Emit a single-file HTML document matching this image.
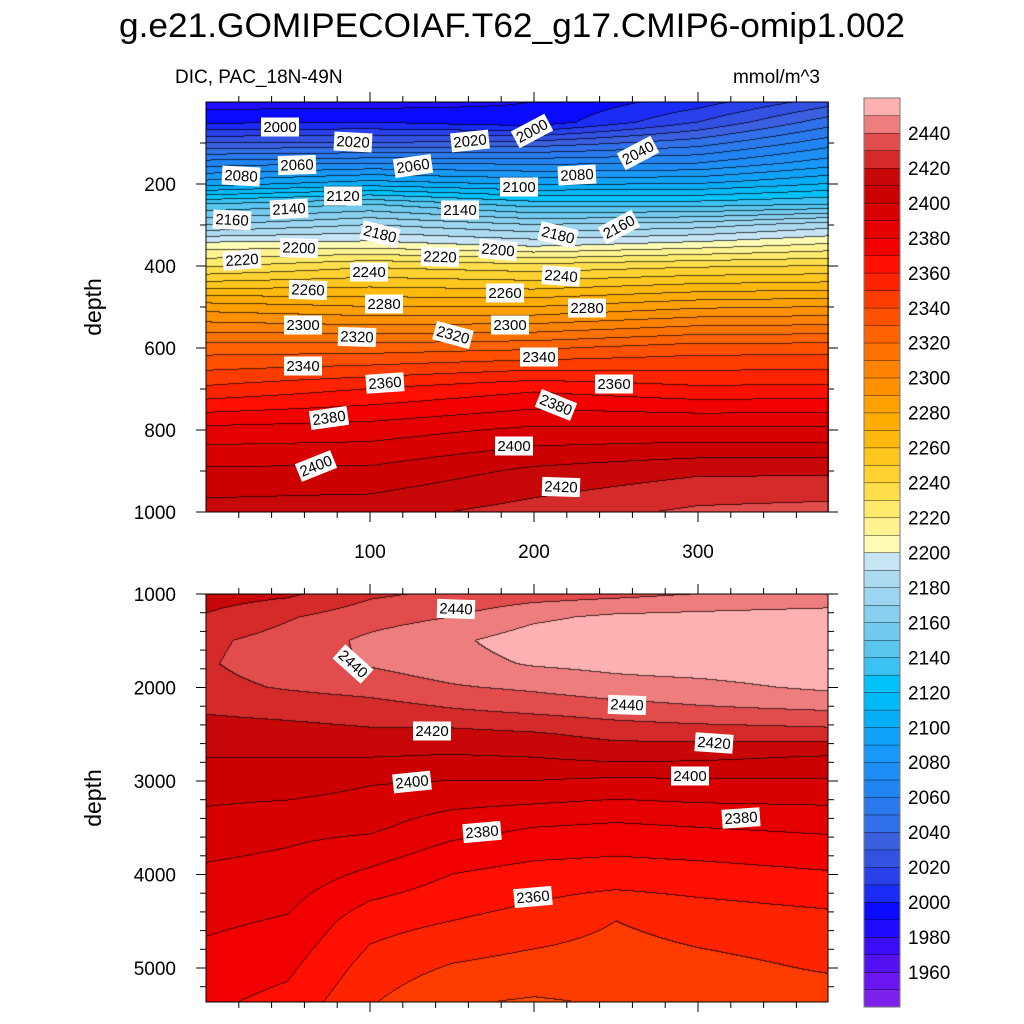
<!DOCTYPE html>
<html><head><meta charset="utf-8">
<style>
html,body{margin:0;padding:0;background:#fff;}
#wrap{position:relative;width:1024px;height:1024px;overflow:hidden;font-family:"Liberation Sans",sans-serif;}
canvas{position:absolute;}
svg{position:absolute;left:0;top:0;}
</style></head>
<body>
<div id="wrap">
<canvas id="ctop" width="623" height="410" style="left:206px;top:102px"></canvas>
<canvas id="cbot" width="622" height="408" style="left:206px;top:594px"></canvas>
<svg id="svg" width="1024" height="1024"></svg>
</div>
<script>
// ---- data ----
const topTimes = [0, 100, 200, 300, 379];
const topDepths = [0, 50, 100, 150, 200, 250, 300, 350, 400, 500, 600, 700, 800, 900, 1000];
const topValsT0   = [1985,1998,2030,2065,2095,2140,2170,2205,2228,2285,2325,2352,2383,2402,2414];
const topValsT100 = [1985,2000,2030,2070,2105,2150,2180,2205,2238,2280,2325,2360,2385,2402,2416];
const topValsT200 = [1990,1993,2033,2068,2098,2135,2170,2198,2233,2280,2328,2368,2392,2412,2424];
const topValsT300 = [2005,2020,2045,2070,2100,2135,2175,2205,2238,2288,2335,2362,2392,2418,2432];
const topValsT379 = [2025,2045,2065,2085,2110,2140,2185,2212,2240,2290,2335,2363,2392,2418,2434];

const botTimes = [0, 50, 100, 150, 200, 250, 300, 379];
const botDepths = [1000,1250,1500,1750,2000,2250,2500,2750,3000,3500,4000,4500,5000,5365];
const botValsT0   = [2415,2421,2428,2429,2427,2421,2415,2410,2405,2396,2388,2382,2376,2372];
const botValsT50  = [2418,2429,2434,2435,2431,2423,2416,2410,2405,2393,2386,2379,2372,2367];
const botValsT100 = [2428,2436,2442,2441,2434,2425,2418,2410,2401,2392,2378,2364,2356,2351];
const botValsT150 = [2432,2440,2448,2446,2439,2429,2417,2409,2400,2384,2370,2360,2349,2341];
const botValsT200 = [2435,2448,2455,2451,2442,2432,2419,2410,2400,2380,2366,2356,2346,2339];
const botValsT250 = [2437,2452,2457,2453,2446,2435,2423,2413,2398,2378,2365,2350,2345,2341];
const botValsT300 = [2440,2453,2457,2455,2447,2438,2424,2412,2399,2380,2366,2354,2347,2343];
const botValsT379 = [2442,2455,2458,2457,2452,2440,2426,2409,2399,2382,2369,2357,2351,2345];

const levelMin = 1950, levelStep = 10;
const colorbarLabels = [1960,1980,2000,2020,2040,2060,2080,2100,2120,2140,2160,2180,2200,2220,2240,2260,2280,2300,2320,2340,2360,2380,2400,2420,2440];
const palette = ["#7d22ea","#6a16f0","#5412f4","#3c0ef8","#200cff","#0a0aff","#1a2cf6","#2a40ea","#3452e2","#3a60e0","#3070e8","#2a7aee","#2084f2","#1c8ef6","#1898f8","#10a2f8","#06aef8","#00baf8","#00c2fa","#3cc2f2","#58c6ee","#72caee","#88ceee","#9cd6f0","#acdaf0","#c6e4f4",
"#fffab4","#fff290","#ffea6c","#ffde4c","#ffd232","#ffc61e","#ffb90e","#ffac00","#ff9f00","#ff9000","#ff8200","#ff7200","#ff6200","#ff5000","#ff3c00","#ff2400","#ff1000","#f20000","#e40000","#d80000","#cc0000","#c80808","#d42a2a","#e24c4c","#ee7e7e","#ffb0b0"];

const topLabels = [[280,127,"2000",0],[353,142,"2020",3],[470,141,"2020",-6],[532,131,"2000",-28],[638,153,"2040",-28],[241,176,"2080",3],[297,165,"2060",-2],[413,166,"2060",-8],[519,187,"2100",0],[577,175,"2080",-3],[343,196,"2120",0],[289,209,"2140",-3],[460,210,"2140",0],[232,220,"2160",3],[619,227,"2160",-28],[380,234,"2180",14],[558,235,"2180",14],[299,248,"2200",2],[498,250,"2200",5],[242,260,"2220",-4],[440,257,"2220",2],[369,272,"2240",0],[561,276,"2240",4],[308,290,"2260",2],[505,293,"2260",0],[384,304,"2280",0],[587,308,"2280",0],[303,325,"2300",0],[510,325,"2300",0],[357,337,"2320",2],[453,335,"2320",15],[303,366,"2340",0],[539,357,"2340",0],[385,383,"2360",-4],[614,384,"2360",0],[329,418,"2380",-8],[556,405,"2380",22],[514,446,"2400",0],[316,466,"2400",-22],[561,487,"2420",2]];
const botLabels = [[456,609,"2440",2],[353,664,"2440",42],[432,731,"2420",0],[627,705,"2440",2],[714,743,"2420",4],[412,782,"2400",-6],[690,776,"2400",0],[482,832,"2380",-5],[741,818,"2380",-4],[533,897,"2360",-5]];

// ---- helpers ----
function interp1(xs, ys, x){
  if (x<=xs[0]) return ys[0];
  for (let i=1;i<xs.length;i++){ if (x<=xs[i]){const f=(x-xs[i-1])/(xs[i]-xs[i-1]); return ys[i-1]+f*(ys[i]-ys[i-1]);} }
  return ys[ys.length-1];
}
function field(times, depths, cols, t, d){
  const colVals = cols.map(c=>interp1(depths,c,d));
  return interp1(times,colVals,t);
}
function binOf(v){ let b=Math.floor((v-levelMin)/levelStep)+1; return Math.max(0,Math.min(palette.length-1,b)); }
function hexRGB(h){return [parseInt(h.substr(1,2),16),parseInt(h.substr(3,2),16),parseInt(h.substr(5,2),16)];}
const palRGB = palette.map(hexRGB);

function drawPanel(id, times, depths, cols, xScaleInv, yScaleInv){
  const c=document.getElementById(id), ctx=c.getContext('2d');
  const W=c.width,H=c.height, img=ctx.createImageData(W,H);
  const bins=new Int16Array(W*H);
  for(let j=0;j<H;j++){ const d=yScaleInv(j+0.5);
    for(let i=0;i<W;i++){ bins[j*W+i]=binOf(field(times,depths,cols,xScaleInv(i+0.5),d)); } }
  for(let j=0;j<H;j++) for(let i=0;i<W;i++){
    const b=bins[j*W+i]; let col=palRGB[b];
    const edge=(i+1<W && bins[j*W+i+1]!==b)||(j+1<H && bins[(j+1)*W+i]!==b);
    const k=(j*W+i)*4;
    if(edge){img.data[k]=col[0]*0.3;img.data[k+1]=col[1]*0.3;img.data[k+2]=col[2]*0.3;}
    else{img.data[k]=col[0];img.data[k+1]=col[1];img.data[k+2]=col[2];}
    img.data[k+3]=255;
  }
  ctx.putImageData(img,0,0);
}
// axis functions
const xPix = t => 206 + t*1.64;
const yTop = d => 102 + d*0.41;
const yBot = d => 594 + (d-1000)*0.0935;

drawPanel('ctop', topTimes, topDepths, [topValsT0,topValsT100,topValsT200,topValsT300,topValsT379], i=>i/1.64, j=>j/0.41);
drawPanel('cbot', botTimes, botDepths, [botValsT0,botValsT50,botValsT100,botValsT150,botValsT200,botValsT250,botValsT300,botValsT379], i=>i/1.64, j=>1000+j/0.0935);

// ---- SVG overlay ----
const NS="http://www.w3.org/2000/svg", svg=document.getElementById('svg');
function el(tag, attrs, parent){ const e=document.createElementNS(NS,tag); for(const k in attrs) e.setAttribute(k,attrs[k]); (parent||svg).appendChild(e); return e; }
function txt(x,y,s,size,anchor,name){ const t=el('text',{x:x,y:y,'font-size':size,'text-anchor':anchor||'start','font-family':'Liberation Sans, sans-serif',fill:'#000'}); t.textContent=s;
  
  
  return t; }

const title = txt(512,37,"g.e21.GOMIPECOIAF.T62_g17.CMIP6-omip1.002",34,'middle','chart-title');
title.setAttribute('textLength','786');
title.setAttribute('lengthAdjust','spacingAndGlyphs');
txt(175,83,"DIC, PAC_18N-49N",19,'start','subtitle-left');
txt(820,83,"mmol/m^3",19,'end','units-label');

// contour labels
function drawLabels(list, prefix){
  list.forEach(function(L){
    const g=el('g',{transform:'translate('+L[0]+','+L[1]+') rotate('+L[3]+')'});
    
    
    el('rect',{x:-19,y:-9.5,width:38,height:19,fill:'#fff'},g);
    const t=el('text',{x:0,y:5,'font-size':15,'text-anchor':'middle','font-family':'Liberation Sans, sans-serif'},g);
    t.textContent=L[2];
  });
}
drawLabels(topLabels,'top');
drawLabels(botLabels,'bottom');

// frames
const f1=el('rect',{x:206,y:102,width:622,height:410,fill:'none',stroke:'#000','stroke-width':1});


const f2=el('rect',{x:206,y:594,width:622,height:408,fill:'none',stroke:'#000','stroke-width':1});



// x ticks
const xMajor=[100,200,300];
const xMinorVals=[20,40,60,80,120,140,160,180,220,240,260,280,320,340,360];
function xTicks(yb, yt, name){
  const g=el('g',{stroke:'#000','stroke-width':1});
  
  
  xMajor.forEach(v=>{ el('line',{x1:xPix(v),x2:xPix(v),y1:yb,y2:yb+10},g); el('line',{x1:xPix(v),x2:xPix(v),y1:yt,y2:yt-10},g); });
  xMinorVals.forEach(v=>{ el('line',{x1:xPix(v),x2:xPix(v),y1:yb,y2:yb+6},g); el('line',{x1:xPix(v),x2:xPix(v),y1:yt,y2:yt-6},g); });
}
xTicks(512,102,'top-x-ticks');
xTicks(1002,594,'bottom-x-ticks');
xMajor.forEach(v=>txt(xPix(v),558,String(v),19,'middle','x-tick-label-'+v));

// y ticks
const topYMajor=[200,400,600,800,1000];
const topYMinor=[100,300,500,700,900];
const botYMajor=[1000,2000,3000,4000,5000];
const botYMinor=[1200,1400,1600,1800,2200,2400,2600,2800,3200,3400,3600,3800,4200,4400,4600,4800,5200];
function yTicks(major, minor, sc, name, prefix){
  const g=el('g',{stroke:'#000','stroke-width':1});
  
  
  major.forEach(v=>{ el('line',{x1:206,x2:196,y1:sc(v),y2:sc(v)},g); el('line',{x1:828,x2:838,y1:sc(v),y2:sc(v)},g); });
  minor.forEach(v=>{ el('line',{x1:206,x2:200,y1:sc(v),y2:sc(v)},g); el('line',{x1:828,x2:834,y1:sc(v),y2:sc(v)},g); });
  major.forEach(v=>txt(176,sc(v)+7,String(v),19,'end',prefix+'-y-tick-label-'+v));
}
yTicks(topYMajor, topYMinor, yTop, 'top-y-ticks','top');
yTicks(botYMajor, botYMinor, yBot, 'bottom-y-ticks','bottom');

const yt1=txt(0,0,"depth",23,'middle','top-y-axis-title'); yt1.setAttribute('transform','translate(101,307) rotate(-90)');
const yt2=txt(0,0,"depth",23,'middle','bottom-y-axis-title'); yt2.setAttribute('transform','translate(101,798) rotate(-90)');

// colorbar
const cbTop=98, cbBox=17.48;
const cb=el('g',{});


for(let b=0;b<palette.length;b++){
  const y=cbTop+(palette.length-1-b)*cbBox;
  const r=el('rect',{x:864,y:y,width:36,height:cbBox+0.3,fill:palette[b],stroke:'#000','stroke-width':0.4},cb);
  
  
}
el('rect',{x:864,y:cbTop,width:36,height:cbBox*palette.length,fill:'none',stroke:'#777','stroke-width':1},cb);
colorbarLabels.forEach(v=>{
  const b=(v-levelMin)/levelStep+1;
  const y=cbTop+(palette.length-b)*cbBox;
  txt(908,y+7,String(v),19,'start','colorbar-label-'+v);
});
</script>
</body></html>
